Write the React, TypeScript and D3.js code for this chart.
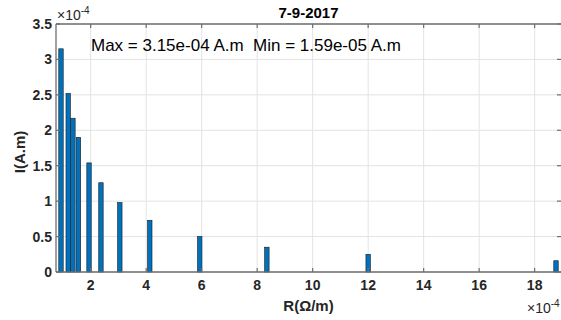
import React from "react";
import * as d3 from "d3";

// Resistance per metre (×1e-4 Ω/m) and the matching current (×1e-4 A.m)
const resistance = [0.93, 1.19, 1.36, 1.56, 1.94, 2.37, 3.05, 4.13, 5.93, 8.35, 12.0, 18.77];
const current = [3.15, 2.52, 2.17, 1.9, 1.54, 1.26, 0.98, 0.73, 0.5, 0.35, 0.25, 0.159];
const xTicks = [2, 4, 6, 8, 10, 12, 14, 16, 18];
const yTicks = [0, 0.5, 1, 1.5, 2, 2.5, 3, 3.5];
const title = "7-9-2017";
const note = "Max = 3.15e-04 A.m  Min = 1.59e-05 A.m";

const W = 561;
const H = 320;
const M = { left: 56, right: 561, top: 24, bottom: 272 };
const FONT = "'Liberation Sans', Arial, sans-serif";
const AXIS = "#6e6e6e";

export default function App() {
  const x = d3.scaleLinear().domain([0.75, 18.95]).range([M.left, M.right]);
  const y = d3.scaleLinear().domain([0, 3.5]).range([M.bottom, M.top]);
  const barW = x(0.16) - x(0);

  return (
    <svg
      width={W}
      height={H}
      style={{ position: "absolute", left: 0, top: 0, background: "#fff" }}
      fontFamily={FONT}
    >
      {/* grid */}
      {xTicks.map((t) => (
        <line key={"gx" + t} x1={x(t)} x2={x(t)} y1={M.top} y2={M.bottom} stroke="#e3e3e3" strokeWidth={1} />
      ))}
      {yTicks.map((t) => (
        <line key={"gy" + t} x1={M.left} x2={M.right} y1={y(t)} y2={y(t)} stroke="#e3e3e3" strokeWidth={1} />
      ))}

      {/* bars */}
      {resistance.map((r, i) => (
        <rect
          key={"b" + i}
          x={x(r) - barW / 2}
          y={y(current[i])}
          width={barW}
          height={y(0) - y(current[i])}
          fill="#0072BD"
          stroke="#1a1a1a"
          strokeWidth={0.6}
        />
      ))}

      {/* box */}
      <line x1={M.left} x2={M.right} y1={M.top} y2={M.top} stroke={AXIS} strokeWidth={1.3} />
      <line x1={M.left} x2={M.right} y1={M.bottom} y2={M.bottom} stroke={AXIS} strokeWidth={1.3} />
      <line x1={M.left} x2={M.left} y1={M.top} y2={M.bottom} stroke={AXIS} strokeWidth={1.3} />

      {/* x ticks */}
      {xTicks.map((t) => (
        <g key={"xt" + t}>
          <line x1={x(t)} x2={x(t)} y1={M.bottom} y2={M.bottom - 4} stroke={AXIS} strokeWidth={1.2} />
          <line x1={x(t)} x2={x(t)} y1={M.top} y2={M.top + 4} stroke={AXIS} strokeWidth={1.2} />
          <text x={x(t)} y={M.bottom + 18} textAnchor="middle" fontSize={14} fontWeight="bold" fill="#262626">
            {t}
          </text>
        </g>
      ))}

      {/* y ticks */}
      {yTicks.map((t) => (
        <g key={"yt" + t}>
          <line x1={M.left} x2={M.left + 4} y1={y(t)} y2={y(t)} stroke={AXIS} strokeWidth={1.2} />
          <line x1={M.right} x2={M.right - 4} y1={y(t)} y2={y(t)} stroke={AXIS} strokeWidth={1.2} />
          <text x={M.left - 4} y={y(t) + 5} textAnchor="end" fontSize={14} fontWeight="bold" fill="#262626">
            {t}
          </text>
        </g>
      ))}

      {/* exponent markers */}
      <text x={57} y={20} fontSize={14} fill="#262626">
        ×10<tspan dy={-6} fontSize={10}>-4</tspan>
      </text>
      <text x={527} y={313} fontSize={14} fill="#262626">
        ×10<tspan dy={-6} fontSize={10}>-4</tspan>
      </text>

      {/* labels */}
      <text x={(M.left + M.right) / 2} y={18} textAnchor="middle" fontSize={15} fontWeight="bold" fill="#000">
        {title}
      </text>
      <text x={(M.left + M.right) / 2} y={311} textAnchor="middle" fontSize={15} fontWeight="bold" fill="#262626">
        R(Ω/m)
      </text>
      <text
        transform="translate(25,152) rotate(-90)"
        textAnchor="middle"
        fontSize={15}
        fontWeight="bold"
        fill="#262626"
      >
        I(A.m)
      </text>
      <text x={91} y={51} fontSize={17} fill="#000" style={{ whiteSpace: "pre" }}>
        {note}
      </text>
    </svg>
  );
}
